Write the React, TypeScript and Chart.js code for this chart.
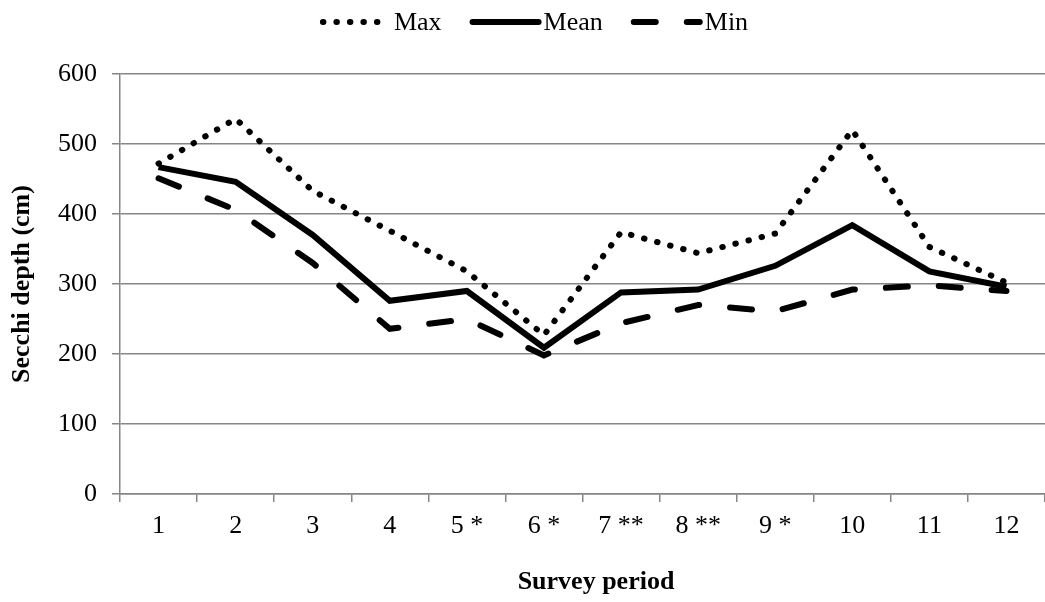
import React, { useEffect, useRef } from "react";
import { Chart, registerables } from "chart.js";

Chart.register(...registerables);

const categories = ["1", "2", "3", "4", "5 *", "6 *", "7 **", "8 **", "9 *", "10", "11", "12"];
const maxValues = [472, 536, 433, 376, 318, 227, 374, 344, 372, 520, 353, 302];
const meanValues = [467, 446, 370, 276, 290, 209, 288, 292, 326, 384, 318, 296];
const minValues = [451, 406, 330, 236, 250, 198, 244, 270, 261, 292, 298, 290];
const seriesLabels = ["Max", "Mean", "Min"];
const yTicks = { min: 0, max: 600, step: 100 };
const xTitle = "Survey period";
const yTitle = "Secchi depth (cm)";

const FONT = "'Liberation Serif', 'Times New Roman', serif";
const GRID = "#868686";

const legendPlugin = {
  id: "lineLegend",
  afterDraw(chart: any) {
    const ctx = chart.ctx;
    const ds = chart.data.datasets;
    ctx.save();
    ctx.font = `26px ${FONT}`;
    ctx.textBaseline = "middle";
    const SAMPLE = 72;
    const GAP = 2;
    const ITEM_GAP = 28;
    const y = 22;
    const widths = ds.map((d: any) => SAMPLE + GAP + ctx.measureText(d.label).width);
    const total = widths.reduce((a: number, b: number) => a + b, 0) + ITEM_GAP * (ds.length - 1);
    let x = 534 - total / 2;
    ds.forEach((d: any, i: number) => {
      ctx.beginPath();
      ctx.setLineDash(d.borderDash || []);
      ctx.lineCap = "round";
      ctx.lineWidth = d.borderWidth;
      ctx.strokeStyle = d.borderColor;
      ctx.moveTo(x + 3, y);
      ctx.lineTo(x + SAMPLE - 3, y);
      ctx.stroke();
      ctx.setLineDash([]);
      ctx.fillStyle = "#000";
      ctx.fillText(d.label, x + SAMPLE + GAP, y + 1);
      x += widths[i] + ITEM_GAP;
    });
    // x-axis title
    ctx.font = `bold 26px ${FONT}`;
    ctx.textAlign = "center";
    ctx.fillText(xTitle, 596, 582);
    ctx.restore();
  },
};

export default function App() {
  const ref = useRef<HTMLCanvasElement | null>(null);

  useEffect(() => {
    if (!ref.current) return;
    const chart = new Chart(ref.current, {
      type: "line",
      data: {
        labels: categories,
        datasets: [
          {
            label: seriesLabels[0],
            data: maxValues,
            borderColor: "#000",
            borderWidth: 6,
            borderDash: [0.5, 13],
            borderCapStyle: "round",
            pointRadius: 0,
            fill: false,
            tension: 0,
          },
          {
            label: seriesLabels[1],
            data: meanValues,
            borderColor: "#000",
            borderWidth: 6,
            borderCapStyle: "butt",
            pointRadius: 0,
            fill: false,
            tension: 0,
          },
          {
            label: seriesLabels[2],
            data: minValues,
            borderColor: "#000",
            borderWidth: 6,
            borderDash: [22, 31],
            borderCapStyle: "round",
            pointRadius: 0,
            fill: false,
            tension: 0,
          },
        ],
      },
      options: {
        responsive: false,
        animation: false,
        layout: { padding: { top: 74, left: 0, right: -3, bottom: 0 } },
        plugins: {
          legend: { display: false },
          tooltip: { enabled: false },
        },
        scales: {
          x: {
            offset: true,
            grid: { offset: true, drawOnChartArea: false, tickLength: 8, color: GRID, lineWidth: 1.5 },
            border: { color: GRID, width: 1.5 },
            ticks: { color: "#000", font: { family: FONT, size: 26 }, padding: 9, maxRotation: 0, autoSkip: false },
            title: { display: false },
            afterFit: (s: any) => {
              s.height = 108;
            },
          },
          y: {
            min: yTicks.min,
            max: yTicks.max,
            grid: { color: GRID, lineWidth: 1.5, tickLength: 8 },
            border: { color: GRID, width: 1.5 },
            ticks: { stepSize: yTicks.step, color: "#000", font: { family: FONT, size: 26 }, padding: 15 },
            title: {
              display: true,
              text: yTitle,
              color: "#000",
              font: { family: FONT, size: 26, weight: "bold" },
              padding: { top: 7, bottom: 0 },
            },
            afterFit: (s: any) => {
              s.width = 120;
            },
          },
        },
      },
      plugins: [legendPlugin],
    } as any);
    return () => chart.destroy();
  }, []);

  return (
    <div style={{ position: "absolute", left: 0, top: 0, width: 1045, height: 602, background: "#fff" }}>
      <canvas ref={ref} width={1045} height={602} style={{ display: "block" }} />
    </div>
  );
}
